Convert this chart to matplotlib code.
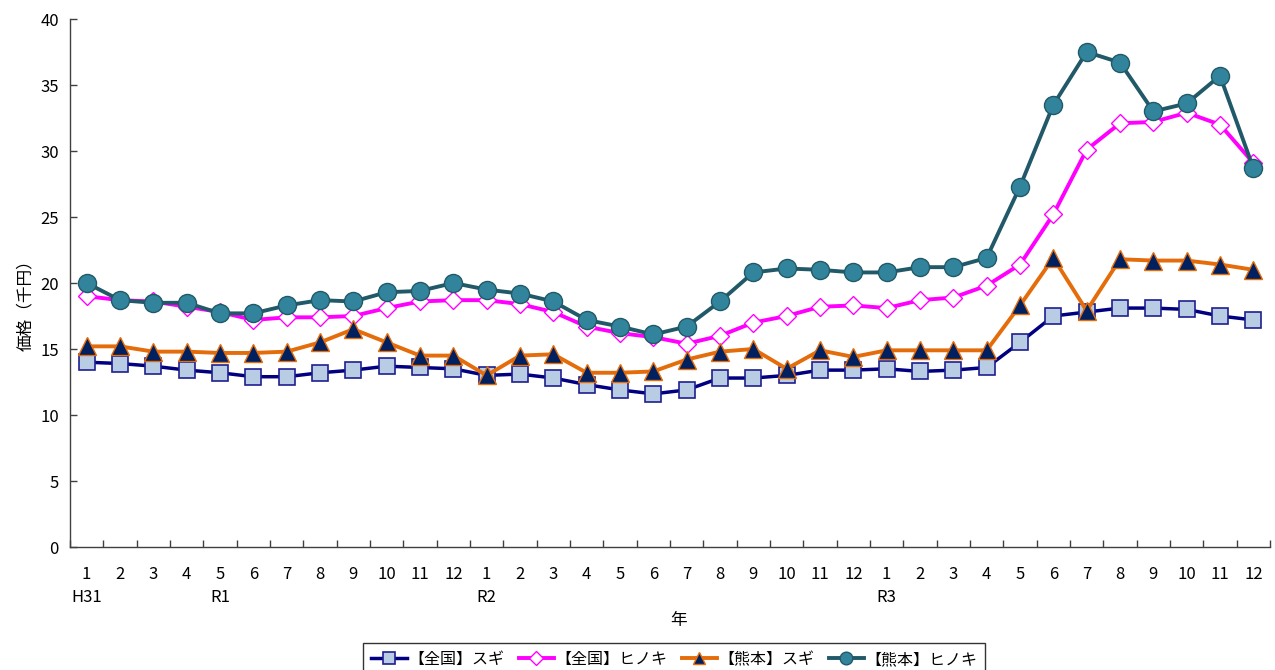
import matplotlib
matplotlib.use("Agg")
import matplotlib.pyplot as plt
import numpy as np

plt.rcParams['font.family'] = ['Liberation Sans Narrow', 'Noto Sans CJK JP', 'DejaVu Sans']

months = [1, 2, 3, 4, 5, 6, 7, 8, 9, 10, 11, 12] * 3
year_labels = {1: "H31", 5: "R1", 13: "R2", 25: "R3"}

national_sugi = [14.0, 13.9, 13.7, 13.4, 13.2, 12.9, 12.9, 13.2, 13.4, 13.7, 13.6, 13.5,
                 13.0, 13.1, 12.8, 12.3, 11.9, 11.6, 11.9, 12.8, 12.8, 13.0, 13.4, 13.4,
                 13.5, 13.3, 13.4, 13.6, 15.5, 17.5, 17.8, 18.1, 18.1, 18.0, 17.5, 17.2]
national_hinoki = [19.0, 18.7, 18.6, 18.2, 17.8, 17.2, 17.4, 17.4, 17.5, 18.1, 18.6, 18.7,
                   18.7, 18.4, 17.8, 16.7, 16.2, 15.9, 15.4, 16.0, 17.0, 17.5, 18.2, 18.3,
                   18.1, 18.7, 18.9, 19.8, 21.4, 25.2, 30.1, 32.1, 32.2, 32.9, 32.0, 29.1]
kumamoto_sugi = [15.2, 15.2, 14.8, 14.8, 14.7, 14.7, 14.8, 15.5, 16.5, 15.5, 14.5, 14.5,
                 13.0, 14.5, 14.6, 13.2, 13.2, 13.3, 14.2, 14.8, 15.0, 13.5, 14.9, 14.4,
                 14.9, 14.9, 14.9, 14.9, 18.3, 21.9, 17.9, 21.8, 21.7, 21.7, 21.4, 21.0]
kumamoto_hinoki = [20.0, 18.7, 18.5, 18.5, 17.7, 17.7, 18.3, 18.7, 18.6, 19.3, 19.4, 20.0,
                   19.5, 19.2, 18.6, 17.2, 16.7, 16.1, 16.7, 18.6, 20.8, 21.1, 21.0, 20.8,
                   20.8, 21.2, 21.2, 21.9, 27.3, 33.5, 37.5, 36.7, 33.0, 33.6, 35.7, 28.7]

series_names = ["【全国】スギ", "【全国】ヒノキ", "【熊本】スギ", "【熊本】ヒノキ"]

fig = plt.figure(figsize=(12.75, 6.7), dpi=100)
ax = fig.add_axes([70/1275, (670-547)/670, 1200/1275, 528/670])

x = np.arange(1, len(months) + 1)

l1, = ax.plot(x, national_sugi, color="#000080", lw=2.5, marker="s", ms=12,
              mfc="#B8CCE4", mec="#1F1F8F", mew=1.2, label=series_names[0], zorder=3)
l2, = ax.plot(x, national_hinoki, color="#FF00FF", lw=2.8, marker="D", ms=9.5,
              mfc="white", mec="#FF00FF", mew=1.0, label=series_names[1], zorder=3)
l3, = ax.plot(x, kumamoto_sugi, color="#E46C0A", lw=2.8, marker="^", ms=13,
              mfc="#002060", mec="#E46C0A", mew=1.0, label=series_names[2], zorder=4)
l4, = ax.plot(x, kumamoto_hinoki, color="#215968", lw=2.8, marker="o", ms=13,
              mfc="#31849B", mec="#215968", mew=1.0, label=series_names[3], zorder=5)

ax.set_xlim(0.5, len(months) + 0.5)
ax.set_ylim(0, 40)
ax.set_yticks(np.arange(0, 41, 5))
ax.set_xticks(x)
ax.set_xticklabels([str(m) for m in months], fontsize=12)
ax.set_xticks(np.arange(0.5, len(months) + 1, 1), minor=True)
ax.tick_params(axis="x", which="major", length=0, pad=14)
ax.tick_params(axis="x", which="minor", length=5, direction="in", width=1, color="#404040")
ax.tick_params(axis="y", length=5, direction="in", width=1, color="#404040", labelsize=12, pad=8)

for s in ["top", "right"]:
    ax.spines[s].set_visible(False)
for s in ["left", "bottom"]:
    ax.spines[s].set_color("#404040")
    ax.spines[s].set_linewidth(1.0)

for pos, lab in year_labels.items():
    ax.text(pos, -0.095, lab, transform=ax.get_xaxis_transform(), ha="center", va="center",
            fontsize=12)

ax.text(0.507, -0.14, "年", transform=ax.transAxes, ha="center", va="center", fontsize=12)
ax.set_ylabel("価格（千円）", fontsize=12, labelpad=4)
ax.yaxis.label.set_y(0.465)

leg = fig.legend(handles=[l1, l2, l3, l4], loc="upper center", ncol=4,
                 bbox_to_anchor=(0.529, 1 - 643/670), frameon=True, fancybox=False,
                 edgecolor="black", fontsize=11.5, handlelength=2.2, columnspacing=0.9,
                 handletextpad=0.1, borderpad=0.5, borderaxespad=0.0, markerscale=0.7)
leg.get_frame().set_linewidth(1.0)

fig.savefig("out.png", dpi=100)
